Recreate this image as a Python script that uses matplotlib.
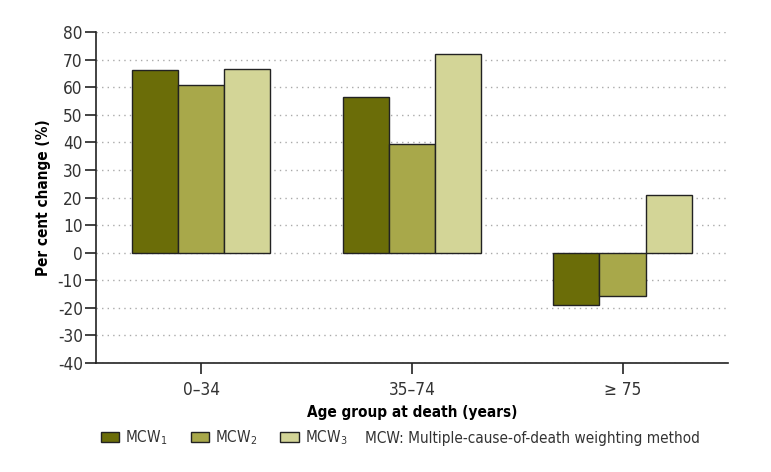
import matplotlib.pyplot as plt
import numpy as np

# Data
age_groups = ['0\u201334', '35\u201374', '\u2265 75']
mcw1 = [66.3, 56.4, -18.8]
mcw2 = [60.7, 39.5, -15.8]
mcw3 = [66.7, 72.0, 20.8]
series_labels = ['MCW$_1$', 'MCW$_2$', 'MCW$_3$']
note = 'MCW: Multiple-cause-of-death weighting method'

colors = ['#6b6d08', '#a8a84a', '#d3d597']

plt.rcParams['font.family'] = ['DejaVu Sans']
plt.rcParams['font.stretch'] = 'condensed'
plt.rcParams['axes.unicode_minus'] = False

fig = plt.figure(figsize=(7.71, 4.72), dpi=100)
ax = fig.add_axes([0.1245, 0.231, 0.8195, 0.701])

x = np.arange(len(age_groups))
width = 0.219
for i, (vals, col, lab) in enumerate(zip([mcw1, mcw2, mcw3], colors, series_labels)):
    ax.bar(x + (i - 1) * width, vals, width, color=col, edgecolor='#222222',
           linewidth=1.0, label=lab, zorder=3)

ax.set_xlim(-0.5, 2.5)
ax.set_ylim(-40, 80)
ax.set_yticks(range(-40, 81, 10))
ax.set_xticks(x)
ax.set_xticklabels(age_groups)
ax.yaxis.grid(True, linestyle=(0, (1, 3)), color='#aaaaaa', linewidth=1.0, zorder=0)
ax.set_axisbelow(True)
for s in ['top', 'right']:
    ax.spines[s].set_visible(False)
for s in ['left', 'bottom']:
    ax.spines[s].set_linewidth(1.2)
    ax.spines[s].set_color('#222222')
ax.tick_params(axis='both', length=8, width=1.2, color='#222222',
               labelsize=12.3, labelcolor='#333333')
ax.tick_params(axis='y', pad=1.5)
ax.tick_params(axis='x', pad=5)

ax.set_ylabel('Per cent change (%)', fontsize=11, fontweight='bold', labelpad=5)
ax.set_xlabel('Age group at death (years)', fontsize=11, fontweight='bold', labelpad=4)

leg = fig.legend(loc='center left', bbox_to_anchor=(0.131, 0.072), ncol=3,
                 frameon=False, fontsize=11, handlelength=1.2, handleheight=0.65,
                 handletextpad=0.4, columnspacing=1.5, borderaxespad=0, borderpad=0)
for t in leg.get_texts():
    t.set_color('#333333')
fig.text(0.473, 0.072, note, fontsize=11, color='#333333', va='center', ha='left')

fig.savefig('out.png', dpi=100)
